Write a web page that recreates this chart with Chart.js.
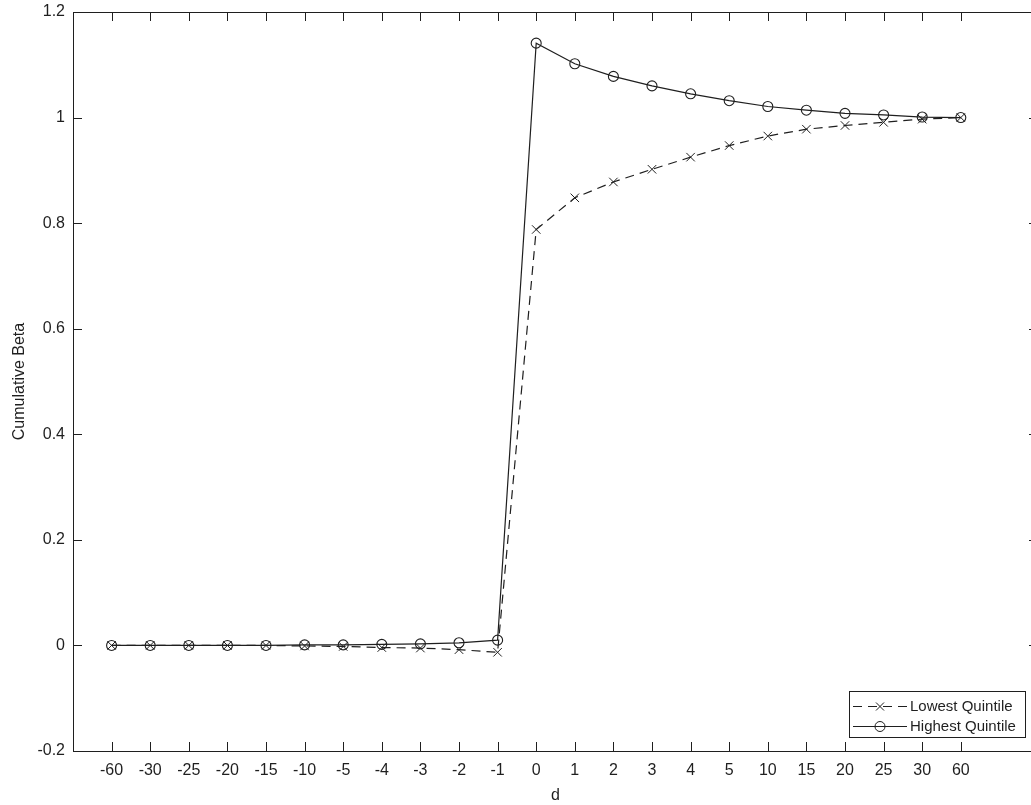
<!DOCTYPE html>
<html>
<head>
<meta charset="utf-8">
<script src="https://cdn.jsdelivr.net/npm/chart.js@4/dist/chart.umd.min.js"></script>
<style>
  html, body { margin: 0; padding: 0; background: #fff; overflow: hidden; }
  #wrap { width: 1031px; height: 805px; overflow: hidden; }
  canvas { display: block; }
</style>
</head>
<body>
<div id="wrap"><canvas id="betaChart" width="1045" height="805"></canvas></div>
<script>
const dLabels = ["-60", "-30", "-25", "-20", "-15", "-10", "-5", "-4", "-3", "-2", "-1",
  "0", "1", "2", "3", "4", "5", "10", "15", "20", "25", "30", "60"];
const lowestQuintile = [0, 0, 0, 0, 0, -0.001, -0.002, -0.004, -0.005, -0.008, -0.013,
  0.788, 0.848, 0.878, 0.902, 0.925, 0.947, 0.965, 0.978, 0.985, 0.991, 0.997, 1.0];
const highestQuintile = [0, 0, 0, 0, 0, 0.001, 0.001, 0.002, 0.003, 0.005, 0.010,
  1.141, 1.102, 1.078, 1.060, 1.045, 1.032, 1.021, 1.014, 1.008, 1.005, 1.001, 1.0];
const yTicks = [-0.2, 0, 0.2, 0.4, 0.6, 0.8, 1, 1.2];

const ink = "#1f1f1f";
const font = "'Liberation Sans', Arial, sans-serif";

// matlab style box with inward ticks, plus the legend box
const framePlugin = {
  id: "frame",
  afterDraw(chart) {
    const { ctx, chartArea: a, scales } = chart;
    const tl = 9;
    ctx.save();
    ctx.strokeStyle = ink;
    ctx.lineWidth = 1;
    ctx.beginPath();
    ctx.rect(Math.round(a.left) + 0.5, Math.round(a.top) + 0.5, Math.round(a.right - a.left), Math.round(a.bottom - a.top));
    dLabels.forEach((l, i) => {
      const x = Math.round(scales.x.getPixelForValue(i)) + 0.5;
      ctx.moveTo(x, a.bottom); ctx.lineTo(x, a.bottom - tl);
      ctx.moveTo(x, a.top); ctx.lineTo(x, a.top + tl);
    });
    yTicks.forEach(v => {
      const y = Math.round(scales.y.getPixelForValue(v)) + 0.5;
      ctx.moveTo(a.left, y); ctx.lineTo(a.left + tl, y);
      ctx.moveTo(a.right, y); ctx.lineTo(a.right - tl, y);
    });
    ctx.stroke();

    // legend
    const bx = 849.5, by = 691.5, bw = 176, bh = 46;
    ctx.fillStyle = "#fff";
    ctx.fillRect(bx, by, bw, bh);
    ctx.strokeRect(bx, by, bw, bh);
    const rows = [
      { y: 706.5, dash: [9, 6], marker: "x", text: "Lowest Quintile" },
      { y: 726.5, dash: [], marker: "o", text: "Highest Quintile" }
    ];
    rows.forEach(r => {
      ctx.beginPath();
      ctx.setLineDash(r.dash);
      ctx.moveTo(853, r.y); ctx.lineTo(907, r.y);
      ctx.stroke();
      ctx.setLineDash([]);
      ctx.beginPath();
      if (r.marker === "o") {
        ctx.arc(880, r.y, 5, 0, Math.PI * 2);
      } else {
        ctx.moveTo(876, r.y - 4); ctx.lineTo(884, r.y + 4);
        ctx.moveTo(884, r.y - 4); ctx.lineTo(876, r.y + 4);
      }
      ctx.stroke();
      ctx.fillStyle = ink;
      ctx.font = "15px " + font;
      ctx.textBaseline = "middle";
      ctx.textAlign = "left";
      ctx.fillText(r.text, 910, r.y);
    });
    ctx.restore();
  }
};

const ctx = document.getElementById("betaChart").getContext("2d");
new Chart(ctx, {
  type: "line",
  data: {
    datasets: [
      {
        label: "Lowest Quintile",
        data: lowestQuintile.map((v, i) => ({ x: i, y: v })),
        borderColor: ink,
        borderWidth: 1.2,
        borderDash: [9, 6],
        pointStyle: "crossRot",
        pointRadius: 6,
        pointBorderColor: ink,
        pointBorderWidth: 1,
        fill: false,
        tension: 0
      },
      {
        label: "Highest Quintile",
        data: highestQuintile.map((v, i) => ({ x: i, y: v })),
        borderColor: ink,
        borderWidth: 1.2,
        pointStyle: "circle",
        pointRadius: 5,
        pointBorderColor: ink,
        pointBackgroundColor: "rgba(0,0,0,0)",
        pointBorderWidth: 1.1,
        fill: false,
        tension: 0
      }
    ]
  },
  options: {
    responsive: false,
    animation: false,
    devicePixelRatio: 1,
    layout: { padding: { left: 0, top: 12, right: 5, bottom: 0 } },
    scales: {
      x: {
        type: "linear",
        min: -1,
        max: 24,
        afterFit: s => { s.height = 54; s.paddingLeft = 0; s.paddingRight = 0; },
        afterBuildTicks: s => { s.ticks = dLabels.map((l, i) => ({ value: i })); },
        grid: { display: false, drawTicks: false },
        border: { display: false },
        ticks: {
          autoSkip: false,
          maxRotation: 0,
          padding: 10,
          color: ink,
          font: { family: font, size: 16 },
          callback: v => dLabels[v] ?? ""
        },
        title: {
          display: true,
          text: "d",
          color: ink,
          padding: 0,
          font: { family: font, size: 16 }
        }
      },
      y: {
        min: -0.2,
        max: 1.2,
        afterFit: s => { s.width = 73; s.paddingTop = 0; s.paddingBottom = 0; },
        afterBuildTicks: s => { s.ticks = yTicks.map(v => ({ value: v })); },
        grid: { display: false, drawTicks: false },
        border: { display: false },
        ticks: {
          padding: 8,
          color: ink,
          font: { family: font, size: 16 },
          callback: v => String(Math.round(v * 10) / 10)
        },
        title: {
          display: true,
          text: "Cumulative Beta",
          color: ink,
          padding: 10,
          font: { family: font, size: 16 }
        }
      }
    },
    plugins: {
      legend: { display: false },
      tooltip: { enabled: false }
    }
  },
  plugins: [framePlugin]
});
</script>
</body>
</html>
